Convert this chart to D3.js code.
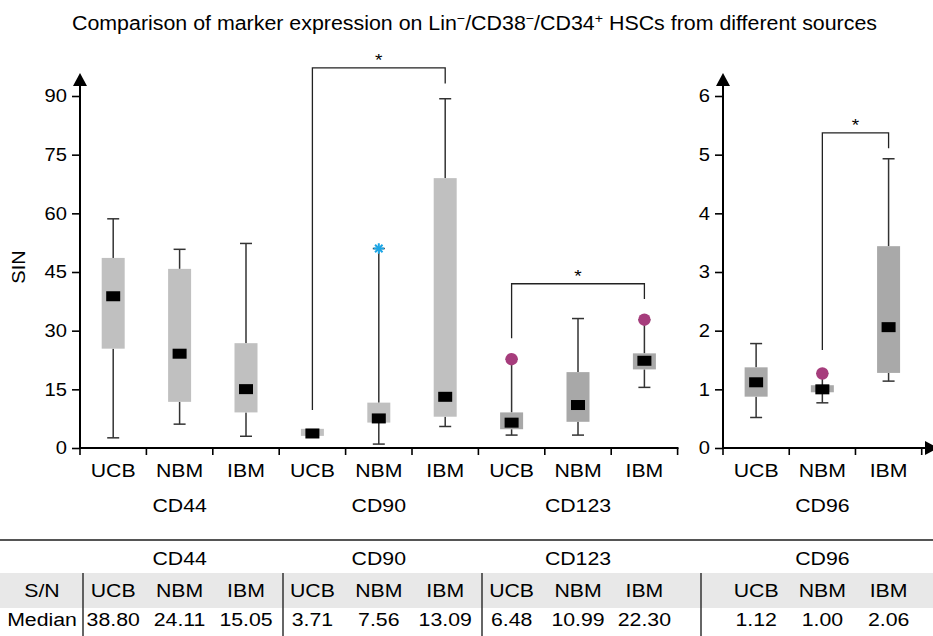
<!DOCTYPE html>
<html><head><meta charset="utf-8">
<script src="https://cdn.jsdelivr.net/npm/d3@7"></script>
<style>body{margin:0;background:#fff}svg{display:block;font-family:"Liberation Sans",Arial,sans-serif}</style>
</head><body><svg id="c" width="933" height="636"></svg>
<script>
// ---------- data ----------
const sources = ["UCB", "NBM", "IBM"];
const markersLeft = ["CD44", "CD90", "CD123"];
const markersRight = ["CD96"];
const leftTicks = [0, 15, 30, 45, 60, 75, 90];
const rightTicks = [0, 1, 2, 3, 4, 5, 6];
// left panel boxes, order: CD44 UCB/NBM/IBM, CD90 UCB/NBM/IBM, CD123 UCB/NBM/IBM
const leftLow    = [2.6, 6.1, 3.0, 3.1, 1.0, 5.5, 3.3, 3.3, 15.5];
const leftQ1     = [25.4, 11.8, 9.1, 3.1, 6.5, 8.0, 4.8, 6.7, 20.1];
const leftQ3     = [48.6, 45.8, 26.8, 4.9, 11.6, 69.0, 9.1, 19.4, 24.2];
const leftHigh   = [58.6, 50.8, 52.3, 4.9, 51.0, 89.3, 22.7, 33.1, 32.8];
const leftMedian = [38.80, 24.11, 15.05, 3.71, 7.56, 13.09, 6.48, 10.99, 22.30];
// right panel (CD96) UCB/NBM/IBM
const rightLow    = [0.52, 0.77, 1.14];
const rightQ1     = [0.875, 0.95, 1.28];
const rightQ3     = [1.375, 1.07, 3.44];
const rightHigh   = [1.78, 1.27, 4.93];
const rightMedian = [1.12, 1.00, 2.06];
// outliers (index into the panel's boxes)
const leftOutIdx = [4, 6, 8];
const leftOutVal = [51.0, 22.7, 32.8];
const leftOutType = ["star", "dot", "dot"];
const rightOutIdx = [1];
const rightOutVal = [1.27];
const rightOutType = ["dot"];
// significance brackets: from box, to box, top level, left leg end, right leg end
const leftSigFrom = [3, 6], leftSigTo = [5, 8];
const leftSigTop = [97.2, 42.0], leftSigLegA = [9.7, 28.05], leftSigLegB = [93.2, 38.1];
const rightSigFrom = [1], rightSigTo = [2];
const rightSigTop = [5.37], rightSigLegA = [1.67], rightSigLegB = [5.11];
// table
const tableGroups = ["CD44", "CD90", "CD123", "CD96"];
const tableMedians = ["38.80", "24.11", "15.05", "3.71", "7.56", "13.09", "6.48", "10.99", "22.30", "1.12", "1.00", "2.06"];

// ---------- drawing ----------
const svg = d3.select("#c");
const SX = 1.12;
function txt(g, x, y, s, anchor, size) {
  return g.append("text")
    .attr("transform", `translate(${x},${y}) scale(${SX},1)`)
    .attr("text-anchor", anchor || "middle")
    .style("font-size", (size || 19) + "px")
    .attr("fill", "#000")
    .text(s);
}

const y0 = 448, yTop = 96;
const leftKeys = [];
markersLeft.forEach(m => sources.forEach(s => leftKeys.push(m + "|" + s)));
const xL = d3.scaleBand().domain(leftKeys).range([80, 677.6]);
const yL = d3.scaleLinear().domain([0, 90]).range([y0, yTop]);
const xR = d3.scaleBand().domain(sources).range([723, 921.7]);
const yR = d3.scaleLinear().domain([0, 6]).range([y0, yTop]);

// title
const title = svg.append("text").attr("x", 72).attr("y", 30)
  .attr("textLength", 805).attr("lengthAdjust", "spacingAndGlyphs")
  .style("font-size", "19.5px");
title.append("tspan").text("Comparison of marker expression on Lin");
title.append("tspan").attr("baseline-shift", "super").style("font-size", "13px").text("−");
title.append("tspan").text("/CD38");
title.append("tspan").attr("baseline-shift", "super").style("font-size", "13px").text("−");
title.append("tspan").text("/CD34");
title.append("tspan").attr("baseline-shift", "super").style("font-size", "13px").text("+");
title.append("tspan").text(" HSCs from different sources");

function drawPanel(x, y, keys, ticks, low, q1, q3, high, med, colors, outIdx, outVal, outType, sigFrom, sigTo, sigTop, sigA, sigB, axisEnd, rightArrow) {
  const g = svg.append("g");
  const x0 = x.range()[0];
  // y axis
  const ax = g.append("g").attr("transform", `translate(${x0},0)`)
    .call(d3.axisLeft(y).tickValues(ticks).tickFormat(d3.format("d")).tickSize(8).tickPadding(5));
  ax.select(".domain").remove();
  ax.selectAll(".tick line").attr("stroke", "#000").attr("stroke-width", 1.6);
  ax.selectAll(".tick text").attr("font-family", null).style("font-size", "18px")
    .attr("fill", "#000").attr("transform", `scale(${SX},1)`).attr("x", -13 / SX);
  g.append("line").attr("x1", x0).attr("x2", x0).attr("y1", y0 + 1).attr("y2", 84)
    .attr("stroke", "#000").attr("stroke-width", 2);
  g.append("path").attr("d", `M${x0 - 7},86L${x0 + 7},86L${x0},73Z`).attr("fill", "#000");
  // x axis
  g.append("line").attr("x1", x0 - 1).attr("x2", axisEnd).attr("y1", y0).attr("y2", y0)
    .attr("stroke", "#000").attr("stroke-width", 2);
  const bounds = keys.map(k => x(k)).concat([x(keys[keys.length - 1]) + x.bandwidth()]);
  g.selectAll(".xt").data(bounds).join("line").attr("class", "xt")
    .attr("x1", d => d).attr("x2", d => d).attr("y1", y0).attr("y2", y0 + 7)
    .attr("stroke", "#000").attr("stroke-width", 1.6);
  if (rightArrow) {
    g.append("path").attr("d", `M925,${y0 - 7}L925,${y0 + 7}L938,${y0}Z`).attr("fill", "#000");
  }
  const bw = x.bandwidth();
  const cx = i => x(keys[i]) + bw / 2;
  // whiskers
  keys.forEach((k, i) => {
    const c = cx(i);
    if (high[i] > q3[i]) {
      g.append("line").attr("x1", c).attr("x2", c).attr("y1", y(q3[i])).attr("y2", y(high[i])).attr("stroke", "#333").attr("stroke-width", 1.5);
      g.append("line").attr("x1", c - 6).attr("x2", c + 6).attr("y1", y(high[i])).attr("y2", y(high[i])).attr("stroke", "#333").attr("stroke-width", 1.5);
    }
    if (low[i] < q1[i]) {
      g.append("line").attr("x1", c).attr("x2", c).attr("y1", y(q1[i])).attr("y2", y(low[i])).attr("stroke", "#333").attr("stroke-width", 1.5);
      g.append("line").attr("x1", c - 6).attr("x2", c + 6).attr("y1", y(low[i])).attr("y2", y(low[i])).attr("stroke", "#333").attr("stroke-width", 1.5);
    }
    g.append("rect").attr("x", c - 11.5).attr("width", 23)
      .attr("y", y(q3[i])).attr("height", Math.max(y(q1[i]) - y(q3[i]), 6))
      .attr("fill", colors[i]);
    g.append("rect").attr("x", c - 7).attr("width", 14).attr("y", y(med[i]) - 5).attr("height", 10).attr("fill", "#000");
  });
  // outliers
  outIdx.forEach((i, j) => {
    const c = cx(i), yy = y(outVal[j]);
    if (outType[j] === "dot") {
      g.append("circle").attr("cx", c).attr("cy", yy).attr("r", 6.2).attr("fill", "#a63c7c");
    } else {
      [d3.symbolPlus, d3.symbolTimes].forEach(sym => {
        g.append("path").attr("d", d3.symbol(sym, 38)()).attr("transform", `translate(${c},${yy})`)
          .attr("fill", "none").attr("stroke", "#1ca6e6").attr("stroke-width", 2);
      });
    }
  });
  // significance brackets
  sigFrom.forEach((a, j) => {
    const xa = cx(a), xb = cx(sigTo[j]), yt = y(sigTop[j]);
    g.append("path").attr("d", `M${xa},${y(sigA[j])}V${yt}H${xb}V${y(sigB[j])}`)
      .attr("fill", "none").attr("stroke", "#222").attr("stroke-width", 1.3);
    txt(g, (xa + xb) / 2, yt - 2, "*", "middle", 17);
  });
  // category labels
  keys.forEach((k, i) => txt(g, cx(i), 477, sources[i % 3], "middle", 19));
  return cx;
}

const boxColorL = leftKeys.map(k => k.startsWith("CD123") ? "#a8a8a8" : "#c0c0c0");
const cxL = drawPanel(xL, yL, leftKeys, leftTicks, leftLow, leftQ1, leftQ3, leftHigh, leftMedian, boxColorL,
  leftOutIdx, leftOutVal, leftOutType, leftSigFrom, leftSigTo, leftSigTop, leftSigLegA, leftSigLegB, 678.5, false);
const cxR = drawPanel(xR, yR, sources, rightTicks, rightLow, rightQ1, rightQ3, rightHigh, rightMedian, ["#a9a9a9", "#a9a9a9", "#a9a9a9"],
  rightOutIdx, rightOutVal, rightOutType, rightSigFrom, rightSigTo, rightSigTop, rightSigLegA, rightSigLegB, 926, true);

// group labels
markersLeft.forEach((m, j) => txt(svg, cxL(j * 3 + 1), 512, m, "middle", 19));
markersRight.forEach((m, j) => txt(svg, cxR(1), 512, m, "middle", 19));

// y label
svg.append("text").attr("transform", "translate(25,267) rotate(-90) scale(1.05,1)")
  .attr("text-anchor", "middle").style("font-size", "19px").text("SIN");

// ---------- table ----------
const tg = svg.append("g");
tg.append("rect").attr("x", 0).attr("y", 573).attr("width", 933).attr("height", 35).attr("fill", "#e8e8e8");
tg.append("line").attr("x1", 0).attr("x2", 933).attr("y1", 540).attr("y2", 540).attr("stroke", "#555").attr("stroke-width", 2);
const colX = [];
for (let i = 0; i < 9; i++) colX.push(cxL(i));
for (let i = 0; i < 3; i++) colX.push(cxR(i));
const seps = [83, 283, 482, 701];
seps.forEach(s => tg.append("line").attr("x1", s).attr("x2", s).attr("y1", 573).attr("y2", 636).attr("stroke", "#333").attr("stroke-width", 1.5));
tableGroups.forEach((gname, j) => txt(tg, colX[j * 3 + 1], 565, gname, "middle", 19));
txt(tg, 42, 597, "S/N", "middle", 19);
txt(tg, 42, 626, "Median", "middle", 19);
colX.forEach((c, i) => {
  txt(tg, c, 597, sources[i % 3], "middle", 19);
  txt(tg, c, 626, tableMedians[i], "middle", 19);
});
</script></body></html>
